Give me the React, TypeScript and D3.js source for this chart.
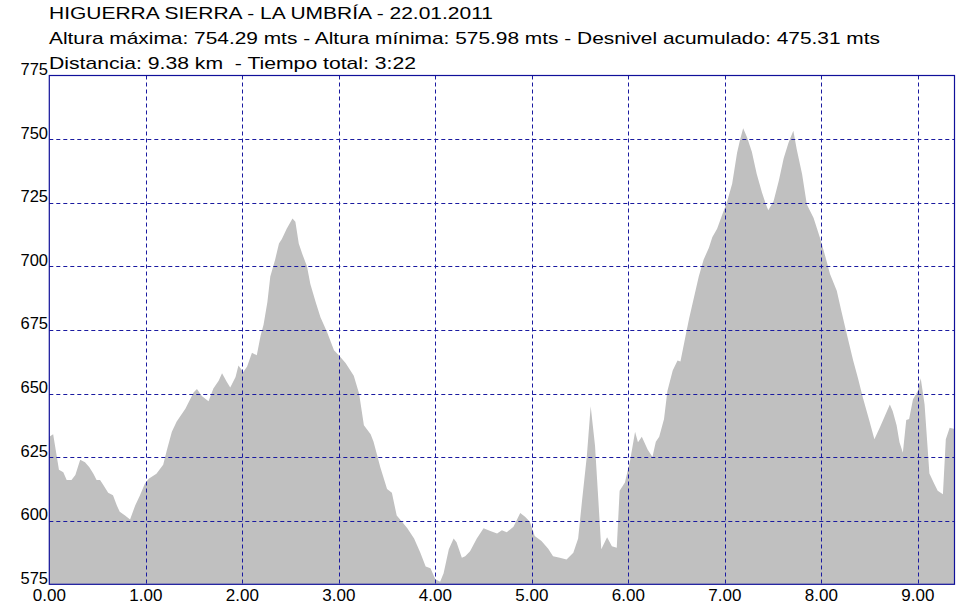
import React from "react";
import * as d3 from "d3";

const titleLines = [
  "HIGUERRA SIERRA - LA UMBRÍA - 22.01.2011",
  "Altura máxima: 754.29 mts - Altura mínima: 575.98 mts - Desnivel acumulado: 475.31 mts",
  "Distancia: 9.38 km  - Tiempo total: 3:22",
];

const distances = [
  0, 0.04, 0.1, 0.145, 0.18, 0.23, 0.27, 0.32, 0.37, 0.415, 0.457, 0.49, 0.526, 0.56, 0.61, 0.66, 0.7, 0.73, 0.785, 0.837,
  0.89, 0.94, 0.99, 1.03, 1.11, 1.18, 1.22, 1.27, 1.32, 1.41, 1.495, 1.53, 1.58, 1.65, 1.7, 1.755, 1.79, 1.84, 1.875, 1.93,
  1.96, 2.01, 2.05, 2.1, 2.15, 2.19, 2.22, 2.26, 2.29, 2.34, 2.38, 2.41, 2.46, 2.52, 2.55, 2.585, 2.62, 2.67, 2.705, 2.76,
  2.81, 2.88, 2.95, 3.0, 3.07, 3.155, 3.21, 3.26, 3.33, 3.36, 3.43, 3.5, 3.55, 3.6, 3.655, 3.71, 3.78, 3.845, 3.9, 3.95,
  4.0, 4.05, 4.086, 4.14, 4.19, 4.22, 4.275, 4.31, 4.36, 4.43, 4.5, 4.57, 4.64, 4.69, 4.74, 4.81, 4.88, 4.93, 4.98, 5.03,
  5.1, 5.17, 5.22, 5.29, 5.36, 5.43, 5.48, 5.52, 5.57, 5.61, 5.655, 5.69, 5.72, 5.78, 5.83, 5.88, 5.91, 5.965, 6.02, 6.07,
  6.1, 6.14, 6.2, 6.25, 6.285, 6.32, 6.37, 6.405, 6.46, 6.51, 6.54, 6.595, 6.63, 6.68, 6.73, 6.78, 6.835, 6.87, 6.92, 6.97,
  7.02, 7.076, 7.127, 7.16, 7.19, 7.23, 7.28, 7.33, 7.385, 7.42, 7.45, 7.505, 7.56, 7.61, 7.66, 7.71, 7.745, 7.8, 7.85, 7.92,
  7.99, 8.04, 8.09, 8.16, 8.21, 8.26, 8.33, 8.38, 8.43, 8.5, 8.55, 8.605, 8.656, 8.71, 8.74, 8.78, 8.81, 8.845, 8.88, 8.91,
  8.95, 9.0, 9.03, 9.07, 9.12, 9.17, 9.206, 9.26, 9.29, 9.33, 9.38,
];

const elevations = [
  633, 634, 620, 619, 616, 616, 618, 624, 623, 621, 618.5, 616, 616, 614, 611, 610, 606, 603.5, 602, 600.5,
  606, 610, 614.5, 616.5, 618.5, 622, 628, 635, 639, 644, 650.4, 651.8, 649, 647, 652, 655, 658, 654.5, 652.4, 656.5,
  661, 658.5, 660.6, 666, 665, 672.8, 677, 686, 696, 702.6, 709, 710.7, 714.8, 718.8, 717.5, 709, 705, 700, 693, 686,
  680, 674, 667, 665, 662, 657, 650, 637.5, 634, 631, 621, 612.5, 611, 602, 599.6, 597, 593, 587.4, 582, 581.3,
  577, 576, 579.3, 588.8, 593, 591.5, 585.4, 586, 588, 593, 597, 596, 595, 596.2, 595.5, 597.6, 603, 601.6, 599.6, 594,
  592, 589, 586, 585.4, 584.7, 587.4, 593, 607.7, 625.3, 645, 629.5, 607.7, 588.8, 593.5, 590, 589.4, 611.8, 615, 624, 635,
  630.8, 633, 628, 625, 631, 633, 640, 651, 659, 663, 662.6, 673, 679.5, 687.7, 696, 702.6, 707.3, 711.4, 714.8, 720,
  725, 732.4, 744.6, 750, 754.3, 750.7, 745, 736.4, 729, 725, 722, 725.6, 733.7, 742.5, 748.6, 753.3, 746, 736.4, 724.3, 719,
  710.7, 704, 697, 690.4, 682, 674, 663, 656, 648.4, 639, 632, 636.5, 641, 645.7, 643, 637.5, 630.8, 626.7, 639.6, 640,
  647.7, 651, 656, 645.7, 618.6, 614.5, 611.8, 610.4, 632, 636.5, 636,
];

const yTicks = [575, 600, 625, 650, 675, 700, 725, 750, 775];
const xTicks = [0, 1, 2, 3, 4, 5, 6, 7, 8, 9];

const W = 978;
const H = 615;
const left = 49.3;
const right = 954.5;
const top = 75.5;
const bottom = 584.3;

export default function App() {
  const x = d3.scaleLinear().domain([0, 9.38]).range([left, right]);
  const y = d3.scaleLinear().domain([575, 775]).range([bottom, top]);
  const data = distances.map((d, i) => [d, elevations[i]] as [number, number]);
  const area = d3
    .area<[number, number]>()
    .x((d) => x(d[0]))
    .y0(y(575))
    .y1((d) => y(d[1]));

  const gridColor = "#1a1aa0";
  const font = "'Liberation Sans', Arial, sans-serif";
  const titleWidths = [444, 831, 367];

  return (
    <svg
      width={W}
      height={H}
      style={{ position: "absolute", left: 0, top: 0, background: "#fff" }}
      fontFamily={font}
    >
      <rect x={0} y={0} width={W} height={H} fill="#fff" />
      {titleLines.map((t, i) => (
        <text
          key={i}
          x={49}
          y={19 + i * 25}
          fontSize={17}
          fill="#000"
          textLength={titleWidths[i]}
          lengthAdjust="spacingAndGlyphs"
          style={{ whiteSpace: "pre" }}
        >
          {t}
        </text>
      ))}
      <path d={area(data) || ""} fill="#c0c0c0" />
      {yTicks
        .filter((v) => v > 575 && v < 775)
        .map((v) => (
          <line
            key={"gy" + v}
            x1={left}
            x2={right}
            y1={Math.round(y(v)) + 0.5}
            y2={Math.round(y(v)) + 0.5}
            stroke={gridColor}
            strokeWidth={1}
            strokeDasharray="4,3"
          />
        ))}
      {xTicks
        .filter((v) => v > 0)
        .map((v) => (
          <line
            key={"gx" + v}
            x1={Math.round(x(v)) + 0.5}
            x2={Math.round(x(v)) + 0.5}
            y1={top}
            y2={bottom}
            stroke={gridColor}
            strokeWidth={1}
            strokeDasharray="4,3"
          />
        ))}
      <rect
        x={left}
        y={top}
        width={right - left}
        height={bottom - top}
        fill="none"
        stroke="#10109a"
        strokeWidth={1.2}
      />
      {yTicks.map((v) => (
        <text key={"ly" + v} x={48} y={y(v) - 0.5} fontSize={16.5} textAnchor="end" fill="#000">
          {v}
        </text>
      ))}
      {xTicks.map((v) => (
        <text key={"lx" + v} x={x(v)} y={601} fontSize={17} textAnchor="middle" fill="#000">
          {v.toFixed(2)}
        </text>
      ))}
    </svg>
  );
}
